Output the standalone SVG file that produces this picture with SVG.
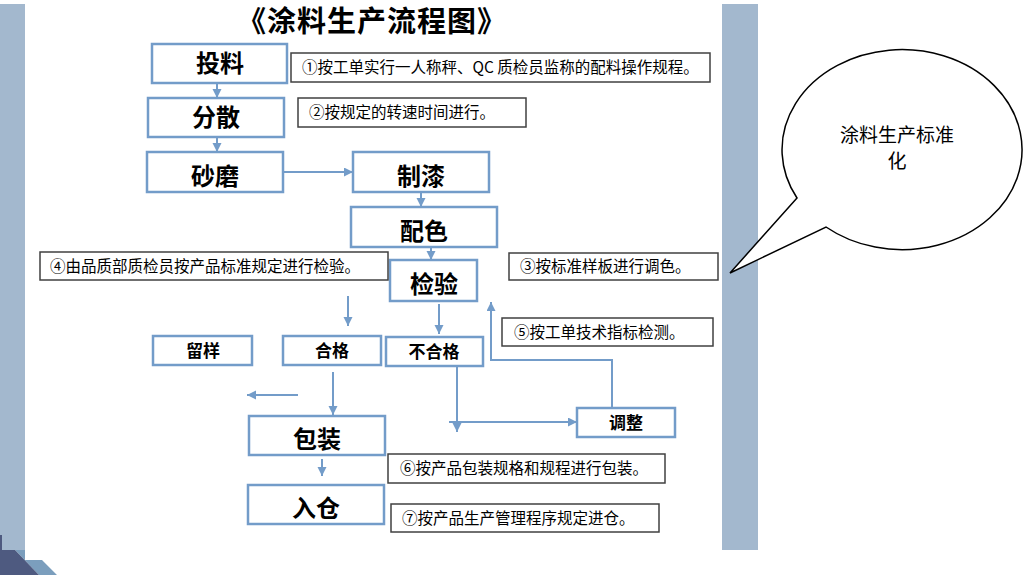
<svg xmlns="http://www.w3.org/2000/svg" width="1025" height="575" viewBox="0 0 1025 575">
<style>
.node{fill:#ffffff;stroke:#739CC9;stroke-width:2.5}
.note{fill:#ffffff;stroke:#404040;stroke-width:1.5}
.lbl{font-family:"Noto Sans CJK SC","Noto Sans",sans-serif;font-weight:bold;font-size:24px;fill:#000;text-anchor:middle}
.sl{font-family:"Noto Sans CJK SC","Noto Sans",sans-serif;font-weight:bold;font-size:17px;fill:#000;text-anchor:middle}
.nt{font-family:"Noto Sans CJK SC","Noto Sans",sans-serif;font-size:15.5px;fill:#000}
.con{fill:none;stroke:#739CC9;stroke-width:2}
.bar{fill:#A3B8CE}
</style>
<defs>
<marker id="ah" markerUnits="userSpaceOnUse" markerWidth="10" markerHeight="10" refX="9" refY="4.5" orient="auto">
<path d="M0,0 L9,4.5 L0,9 z" fill="#739CC9"/>
</marker>
</defs>
<rect width="1025" height="575" fill="#ffffff"/>
<g id="decor">
<rect class="bar" x="0" y="4" width="25" height="546"/>
<rect class="bar" x="722" y="4" width="36" height="546"/>
<polygon points="15,550 25,550 25,560 42,560 57,575 39,575" fill="#7B9EBD"/>
<polygon points="0,550 15,550 39,575 0,575" fill="#4E5A80"/>
<rect x="0" y="535" width="2" height="15" fill="#4E5A80"/>
</g>
<text id="title" x="372" y="32" font-family="'Noto Sans CJK SC',sans-serif" font-weight="bold" font-size="29" letter-spacing="1" text-anchor="middle" fill="#000">《涂料生产流程图》</text>
<g id="connectors">
<path class="con" d="M217,83 V98" marker-end="url(#ah)"/>
<path class="con" d="M217,137 V152" marker-end="url(#ah)"/>
<path class="con" d="M283,172 H353" marker-end="url(#ah)"/>
<path class="con" d="M421,192 V207" marker-end="url(#ah)"/>
<path class="con" d="M431,247 V260" marker-end="url(#ah)"/>
<path class="con" d="M348,296 V326" marker-end="url(#ah)"/>
<path class="con" d="M439,304 V334" marker-end="url(#ah)"/>
<path class="con" d="M333,372 V415" marker-end="url(#ah)"/>
<path class="con" d="M298,395 H247" marker-end="url(#ah)"/>
<path class="con" d="M457,366 V432" marker-end="url(#ah)"/>
<path class="con" d="M449,422 H577" marker-end="url(#ah)"/>
<path class="con" d="M612,408 V360 H491 V302" marker-end="url(#ah)"/>
<path class="con" d="M322,459 V476" marker-end="url(#ah)"/>
</g>
<g id="n-tl"><rect class="node" x="152" y="44" width="135" height="39"/><text class="lbl" x="220" y="72">投料</text></g>
<g id="n-fs"><rect class="node" x="148" y="98" width="136" height="39"/><text class="lbl" x="216" y="126">分散</text></g>
<g id="n-sm"><rect class="node" x="147" y="152" width="136" height="40"/><text class="lbl" x="215" y="185">砂磨</text></g>
<g id="n-zq"><rect class="node" x="353" y="152" width="136" height="40"/><text class="lbl" x="421" y="185">制漆</text></g>
<g id="n-ps"><rect class="node" x="351" y="207" width="146" height="40"/><text class="lbl" x="424" y="240">配色</text></g>
<g id="n-jy"><rect class="node" x="390" y="260" width="87" height="41"/><text class="lbl" x="434" y="293">检验</text></g>
<g id="n-ly"><rect class="node" x="153" y="336" width="99" height="29"/><text class="sl" x="203" y="357">留样</text></g>
<g id="n-hg"><rect class="node" x="283" y="336" width="98" height="29"/><text class="sl" x="332" y="357">合格</text></g>
<g id="n-bhg"><rect class="node" x="386" y="337" width="97" height="29"/><text class="sl" x="434" y="358">不合格</text></g>
<g id="n-tz"><rect class="node" x="577" y="408" width="98" height="29"/><text class="sl" x="626" y="429">调整</text></g>
<g id="n-bz"><rect class="node" x="249" y="416" width="136" height="39"/><text class="lbl" x="317" y="448">包装</text></g>
<g id="n-rc"><rect class="node" x="248" y="485" width="136" height="39"/><text class="lbl" x="316" y="517">入仓</text></g>
<g id="note1"><rect class="note" x="291" y="53" width="419" height="29"/><text class="nt" x="302" y="73">①按工单实行一人称秤、QC 质检员监称的配料操作规程。</text></g>
<g id="note2"><rect class="note" x="298" y="98" width="228" height="29"/><text class="nt" x="309" y="118">②按规定的转速时间进行。</text></g>
<g id="note3"><rect class="note" x="509" y="253" width="209" height="27"/><text class="nt" x="520" y="272">③按标准样板进行调色。</text></g>
<g id="note4"><rect class="note" x="40" y="252" width="348" height="28"/><text class="nt" x="50" y="272">④由品质部质检员按产品标准规定进行检验。</text></g>
<g id="note5"><rect class="note" x="502" y="318" width="211" height="28"/><text class="nt" x="514" y="338">⑤按工单技术指标检测。</text></g>
<g id="note6"><rect class="note" x="388" y="454" width="277" height="29"/><text class="nt" x="400" y="474">⑥按产品包装规格和规程进行包装。</text></g>
<g id="note7"><rect class="note" x="391" y="504" width="268" height="28"/><text class="nt" x="402" y="524">⑦按产品生产管理程序规定进仓。</text></g>
<g id="callout">
<path d="M797,198 L730,273 L826,227 A120,100 0 1 0 797,198 Z" fill="#ffffff" stroke="#000" stroke-width="1.5"/>
<text font-family="'Noto Sans CJK SC',sans-serif" font-size="19" text-anchor="middle" fill="#000"><tspan x="897" y="142">涂料生产标准</tspan><tspan x="897" y="168">化</tspan></text>
</g>
</svg>
